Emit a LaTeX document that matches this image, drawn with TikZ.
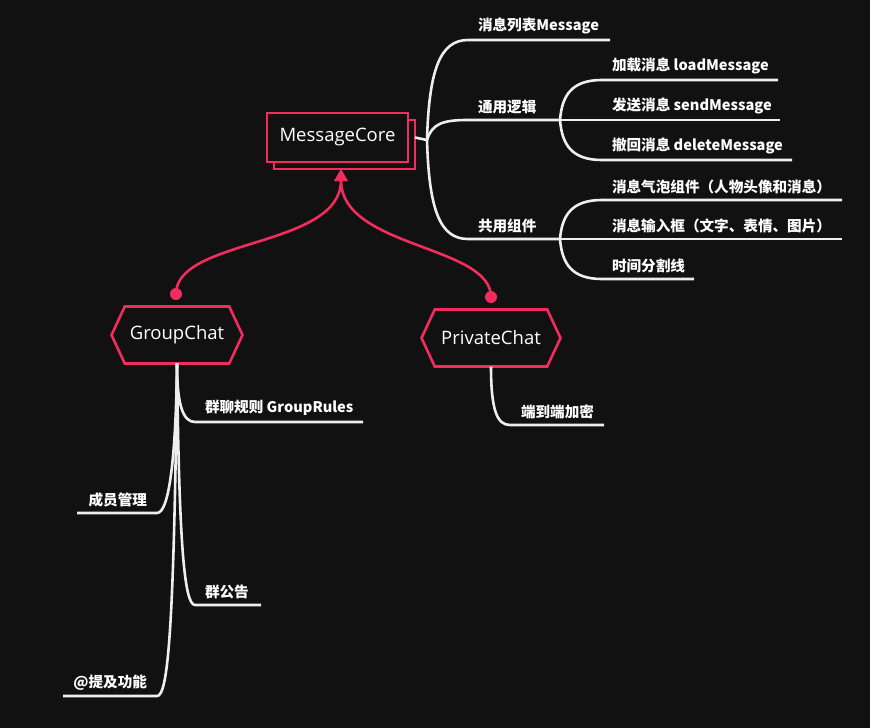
\documentclass[tikz,border=0pt]{standalone}
\usepackage{fontspec}
\setmainfont{Open Sans}
\newfontfamily\cjk{Noto Sans CJK SC}
\usetikzlibrary{shapes.symbols,shadows,arrows.meta}
\definecolor{bgdark}{HTML}{111111}
\definecolor{rosered}{HTML}{F22D5E}
\definecolor{branchwhite}{HTML}{EEEEEE}
\tikzset{
  core/.style={draw=rosered, line width=2.6pt, fill=bgdark, text=white,
    minimum width=141pt, minimum height=49pt, outer sep=0pt,
    font=\fontsize{18.5}{20}\selectfont,
    copy shadow={shadow xshift=7pt, shadow yshift=-7pt}},
  sub/.style={draw=rosered, line width=2.6pt, fill=bgdark, text=white,
    shape=signal, signal to=west and east, signal pointer angle=130,
    minimum height=57pt, outer sep=0pt, font=\fontsize{18.5}{20}\selectfont},
  leaf/.style={inner xsep=10pt, inner ysep=6pt, outer sep=0pt, text=white,
    font=\cjk\bfseries\fontsize{14.6}{16}\selectfont},
  branch/.style={draw=branchwhite, line width=2.6pt},
  link/.style={draw=rosered, line width=2.6pt},
  dot/.style={circle, fill=rosered, inner sep=0pt, minimum size=12pt},
}
\begin{document}
\begin{tikzpicture}[x=1pt, y=-1pt]
\fill[bgdark] (0,0) rectangle (870,728);
\useasboundingbox (0,0) rectangle (870,728);

% main nodes
\node[core] (mc) at (337.5,137.5) {MessageCore};
\node[sub, minimum width=131pt] (gc) at (177,335) {GroupChat};
\node[sub, minimum width=139pt] (pc) at (491,338) {PrivateChat};
\coordinate (coretip) at (341,169);
\node[dot] (gcdot) at (176,294) {};
\node[dot] (pcdot) at (491,297) {};

% links to the core
\draw[link, -{Triangle[length=12pt, width=13pt]}] (gcdot.center) .. controls (176,238) and (341,248) .. (coretip);
\draw[link, -{Triangle[length=12pt, width=13pt]}] (pcdot.center) .. controls (491,245) and (341,248) .. (coretip);

% MessageCore branches
\coordinate (mcj) at (427,140);
\draw[branch] ([xshift=7pt]mc.east) -- (mcj);
\node[leaf, anchor=south west] (msglist) at (468,40) {消息列表Message};
\node[leaf, anchor=south west] (logic) at (468,120) {通用逻辑};
\node[leaf, anchor=south west] (shared) at (468,239) {共用组件};
\draw[branch] (mcj) .. controls (429,70) and (440,40) .. (msglist.south west) -- ++(142,0);
\draw[branch] (mcj) .. controls (432,124) and (442,120) .. (logic.south west) -- ++(92,0) coordinate (logicj);
\draw[branch] (mcj) .. controls (429,210) and (440,239) .. (shared.south west) -- ++(92,0) coordinate (sharedj);

% 通用逻辑
\node[leaf, anchor=south west] (load) at (602,80) {加载消息 loadMessage};
\node[leaf, anchor=south west] (send) at (602,120) {发送消息 sendMessage};
\node[leaf, anchor=south west] (del) at (602,160) {撤回消息 deleteMessage};
\draw[branch] (logicj) .. controls (562,95) and (572,80) .. (load.south west) -- ++(176,0);
\draw[branch] (logicj) -- (send.south west) -- ++(178,0);
\draw[branch] (logicj) .. controls (562,145) and (572,160) .. (del.south west) -- ++(190,0);

% 共用组件
\node[leaf, anchor=south west] (bubble) at (602,200) {消息气泡组件（人物头像和消息）};
\node[leaf, anchor=south west] (input) at (602,239) {消息输入框（文字、表情、图片）};
\node[leaf, anchor=south west] (timeline) at (602,279) {时间分割线};
\draw[branch] (sharedj) .. controls (562,215) and (572,200) .. (bubble.south west) -- ++(240,0);
\draw[branch] (sharedj) -- (input.south west) -- ++(240,0);
\draw[branch] (sharedj) .. controls (562,264) and (572,279) .. (timeline.south west) -- ++(92,0);

% GroupChat branches
\node[leaf, anchor=south west] (rules) at (195,422) {群聊规则 GroupRules};
\node[leaf, anchor=south east] (members) at (157,513) {成员管理};
\node[leaf, anchor=south west] (notice) at (195,605) {群公告};
\node[leaf, anchor=south east] (mention) at (157,696) {@提及功能};
\draw[branch] (gc.south) .. controls (177,405) and (183,422) .. (rules.south west) -- ++(168,0);
\draw[branch] (gc.south) .. controls (176,450) and (170,513) .. (members.south east) -- ++(-80,0);
\draw[branch] (gc.south) .. controls (179,540) and (184,605) .. (notice.south west) -- ++(66,0);
\draw[branch] (gc.south) .. controls (174,630) and (168,696) .. (mention.south east) -- ++(-94,0);

% PrivateChat branch
\node[leaf, anchor=south west, inner xsep=11pt] (e2e) at (510,425) {端到端加密};
\draw[branch] (pc.south) .. controls (491,410) and (497,425) .. (e2e.south west) -- ++(94,0);
\end{tikzpicture}
\end{document}
